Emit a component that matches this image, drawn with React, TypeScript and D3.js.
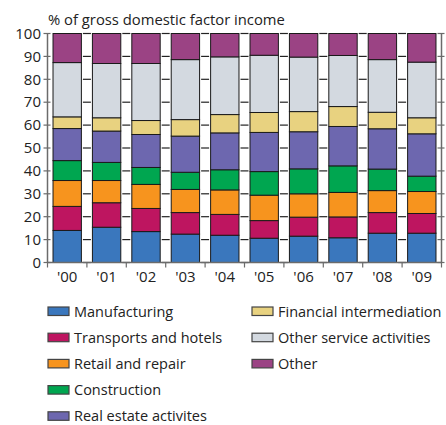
import React from "react";
import * as d3 from "d3";

const years = ["'00", "'01", "'02", "'03", "'04", "'05", "'06", "'07", "'08", "'09"];
const seriesNames = [
  "Manufacturing",
  "Transports and hotels",
  "Retail and repair",
  "Construction",
  "Real estate activites",
  "Financial intermediation",
  "Other service activities",
  "Other",
];
const colors = ["#3a77bd", "#be1560", "#f7941e", "#00a650", "#6d67af", "#e8d280", "#d3d9e0", "#9b4384"];

const manufacturing = [14.0, 15.4, 13.5, 12.4, 11.9, 10.6, 11.5, 10.8, 12.8, 12.8];
const transports = [10.5, 10.7, 10.1, 9.4, 9.1, 7.7, 8.3, 9.1, 9.0, 8.6];
const retail = [11.3, 9.7, 10.5, 10.1, 10.7, 11.1, 10.2, 10.7, 9.6, 9.6];
const construction = [8.7, 7.9, 7.4, 7.5, 8.8, 10.3, 10.9, 11.6, 9.4, 6.7];
const realEstate = [14.0, 13.7, 14.4, 15.8, 16.1, 17.1, 16.2, 17.2, 17.6, 18.5];
const financial = [5.1, 5.8, 6.1, 7.2, 8.0, 8.7, 8.8, 8.7, 7.2, 7.0];
const otherService = [23.7, 23.7, 24.9, 26.2, 25.2, 25.0, 23.8, 22.3, 23.0, 24.3];
const other = [12.7, 13.1, 13.1, 11.4, 10.2, 9.5, 10.3, 9.6, 11.4, 12.5];

const yTicks = [0, 10, 20, 30, 40, 50, 60, 70, 80, 90, 100];
const title = "% of gross domestic factor income";

const allSeries = [manufacturing, transports, retail, construction, realEstate, financial, otherService, other];

export default function App() {
  const W = 446, H = 425;
  const left = 47.5, right = 441.5, top = 33.5, bottom = 262.5;
  const font = "'Open Sans', sans-serif";

  const rows = years.map((y, i) => {
    const r: any = { year: y };
    seriesNames.forEach((s, j) => (r[s] = allSeries[j][i]));
    return r;
  });
  const stacked = d3.stack<any>().keys(seriesNames)(rows);

  const x = d3.scaleBand<string>().domain(years).range([left, right]).paddingInner(0.28).paddingOuter(0.14);
  const y = d3.scaleLinear().domain([0, 100]).range([bottom, top]);
  const boundaries = d3.range(years.length + 1).map((i) => left + i * ((right - left) / years.length));
  const axisColor = "#6b6b6b";

  const legendCols = [
    { x: 48, items: [0, 1, 2, 3, 4] },
    { x: 252, items: [5, 6, 7] },
  ];

  return (
    <svg width={W} height={H} style={{ position: "absolute", left: 0, top: 0 }} fontFamily={font}>
      <rect width={W} height={H} fill="#fff" />
      <text x={48} y={25} fontSize={14.8} fill="#222">{title}</text>

      {/* tick marks in gaps */}
      {yTicks.map((t) =>
        boundaries.slice(1, -1).map((bx, i) => (
          <line key={`g${t}-${i}`} x1={bx - 4} x2={bx + 4} y1={y(t)} y2={y(t)} stroke="#222" strokeWidth={1.2} />
        ))
      )}

      {stacked.map((s, j) => (
        <g key={s.key}>
          {s.map((d, i) => (
            <rect
              key={i}
              x={x(years[i])!}
              width={x.bandwidth()}
              y={y(d[1])}
              height={y(d[0]) - y(d[1])}
              fill={colors[j]}
              stroke="#1a1a1a"
              strokeWidth={1}
            />
          ))}
        </g>
      ))}

      {/* left axis */}
      <line x1={left} x2={left} y1={top} y2={bottom} stroke={axisColor} strokeWidth={1.5} />
      {yTicks.map((t) => (
        <g key={`l${t}`}>
          <line x1={left - 4} x2={left + 3} y1={y(t)} y2={y(t)} stroke={axisColor} strokeWidth={1.2} />
          <text x={41} y={y(t)} dy="0.35em" textAnchor="end" fontSize={15} fill="#222">{t}</text>
        </g>
      ))}
      {/* right axis */}
      <line x1={right} x2={right} y1={top} y2={bottom} stroke={axisColor} strokeWidth={1.5} />
      {yTicks.map((t) => (
        <line key={`r${t}`} x1={right - 4} x2={right + 3} y1={y(t)} y2={y(t)} stroke={axisColor} strokeWidth={1.2} />
      ))}
      {/* bottom axis */}
      <line x1={left} x2={right} y1={bottom} y2={bottom} stroke={axisColor} strokeWidth={1.5} />
      {boundaries.map((bx, i) => (
        <line key={`b${i}`} x1={bx} x2={bx} y1={bottom} y2={bottom + 5} stroke={axisColor} strokeWidth={1.2} />
      ))}
      {years.map((yr) => (
        <text key={yr} x={x(yr)! + x.bandwidth() / 2} y={282} textAnchor="middle" fontSize={15} fill="#222">{yr}</text>
      ))}

      {/* legend */}
      {legendCols.map((col, ci) =>
        col.items.map((idx, k) => {
          const cy = 311.5 + k * 26.2;
          return (
            <g key={`lg${ci}-${k}`}>
              <rect x={col.x} y={cy - 4.5} width={21} height={8.5} fill={colors[idx]} stroke="#444" strokeWidth={1.2} />
              <text x={col.x + 26} y={cy} dy="0.35em" fontSize={14.5} fill="#222">{seriesNames[idx]}</text>
            </g>
          );
        })
      )}
    </svg>
  );
}
